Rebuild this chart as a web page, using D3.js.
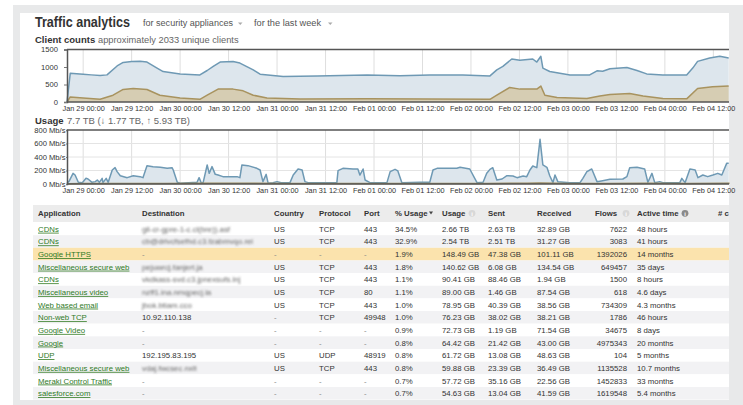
<!DOCTYPE html>
<html><head><meta charset="utf-8">
<script src="https://cdn.jsdelivr.net/npm/d3@7"></script>
<style>
html,body{margin:0;padding:0;background:#fff;}
svg{display:block;font-family:"Liberation Sans",Arial,Helvetica,sans-serif;}
</style></head>
<body>
<svg id="c" width="743" height="405"></svg>
<script>
// ---------- DATA ----------
// hours relative to Jan 29 00:00
const totalHours  = [-4,-3.2,0,2,4.2,5.9,8.4,9.9,12,14.1,15.8,18.3,19.8,24,28.9,30.7,32.2,33.9,37.1,38.8,42.1,43.8,49.5,57.9,64,70.3,78.4,85.8,94,100.7,102.4,103.9,106.1,108.1,111.3,112.3,113.3,113.8,115.5,120.5,125.4,127.2,128.6,130.4,134.6,137.1,139.5,143.5,149.4,150.9,152.1,155.1,157.6,159.8];
const totalValues = [0,820,790,775,760,775,1030,1130,1160,1165,1140,970,870,803,774,900,1016,1142,1160,1113,919,794,726,745,760,774,750,774,774,745,919,1016,1229,1190,1229,1142,1306,968,871,774,774,890,880,948,987,900,803,774,774,968,1161,1258,1306,1258];
const otherHours  = [-4,-3.2,0,4.2,7.4,9.9,12.4,15.8,19,24,28.9,30.7,33.4,37.1,39.6,42.1,45.5,53.7,70.3,100.7,102.4,105.6,108.1,112.3,113.3,114.3,117.3,124.7,127.9,130.4,135.3,138.6,143.5,149.4,152.1,155.8,159.8];
const otherValues = [0,145,116,77,194,358,387,358,194,116,77,194,368,368,319,194,116,85,90,77,194,416,368,368,455,194,126,97,174,213,242,174,97,90,387,435,455];

const usageHours  = [-4,-3.5,-2.5,-2,-1.2,-0.2,0.7,1.2,2.2,3,3.5,4,4.7,4.9,5.7,6.2,7.2,7.9,8.4,9.2,10.9,12.4,14.1,14.8,15.8,17.3,19.1,20.8,22,22.3,23.3,24,28.2,28.7,29.2,29.7,30.7,31.2,31.9,32.7,33.4,34.6,36.4,38.1,38.8,39.3,40.8,43,43.8,44.5,45.3,45.8,47,48,49,51.2,52,53.2,54.2,54.9,55.7,62.8,63.1,64.3,66.8,68,68.5,69.3,69.8,71,75.2,76,77.2,77.9,78.9,83.4,85.8,86.6,87.6,90.1,92.5,93.3,95.7,97.5,99,99.9,100.7,101.4,102.4,103.7,104.9,106.4,107.4,108.9,109.8,110.6,111.3,112.3,113.1,113.8,114.8,115.5,116.3,116.8,117.5,120.5,123,123.7,124.7,125.9,127.2,128.6,130.4,133.6,134.6,135.3,137.1,139,139.8,140.8,141.5,142.7,143.5,147.7,148.2,149,150.2,151.5,152.2,153.4,154.6,155.9,157.1,158.1,159.3,159.8];
const usageValues = [10,40,158,133,25,20,84,74,25,35,59,25,84,20,84,25,207,242,183,123,94,123,109,94,272,257,247,232,242,207,25,10,25,94,20,20,282,158,257,143,133,109,109,109,94,282,272,232,207,35,143,10,20,35,20,20,133,222,207,35,20,20,198,232,222,222,133,222,59,20,20,183,217,193,20,25,25,207,232,232,232,247,222,20,25,158,217,242,59,74,123,118,94,118,109,207,267,242,662,282,247,123,20,133,35,20,20,84,183,222,35,49,69,74,109,242,247,222,25,158,20,35,20,20,84,20,222,207,94,133,109,133,158,133,306,306];
const usageLowHours  = [-4,0,10,20,30,40,50,60,70,80,90,100,110,113,120,130,140,150,160];
const usageLowValues = [4,6,8,9,10,12,7,6,6,7,8,7,12,14,8,9,10,7,12];

const clientTicks = [0,500,1000,1500];
const usageTicks  = [0,200,400,600,800];

const apps = ["CDNs","CDNs","Google HTTPS","Miscellaneous secure web","CDNs","Miscellaneous video","Web based email","Non-web TCP","Google Video","Google","UDP","Miscellaneous secure web","Meraki Control Traffic","salesforce.com"];
const destinations = ["gll-cr-gpre-1-c.cl(bre)).asf","cb@drlvcfsefhd.c3.fzabmvqo.rei","-","pejuwrcj.fanjert.ja","vkdkass-svd.c3.jpnexsufs.lnj","nzff1.ina.nmqpecj.la","jbok.btiam.cco","10.92.110.138","-","-","192.195.83.195","vdaj.fwcsec.nxlt","-","-"];
const countries = ["US","US","-","US","US","US","US","-","-","-","US","US","-","-"];
const protocols = ["TCP","TCP","-","TCP","TCP","TCP","TCP","TCP","-","-","UDP","TCP","-","-"];
const ports = ["443","443","-","443","443","80","443","49948","-","-","48919","443","-","-"];
const pctUsage = ["34.5%","32.9%","1.9%","1.8%","1.1%","1.1%","1.0%","1.0%","0.9%","0.8%","0.8%","0.8%","0.7%","0.7%"];
const usageCol = ["2.66 TB","2.54 TB","148.49 GB","140.62 GB","90.41 GB","89.00 GB","78.95 GB","76.23 GB","72.73 GB","64.42 GB","61.72 GB","59.88 GB","57.72 GB","54.63 GB"];
const sentCol = ["2.63 TB","2.51 TB","47.38 GB","6.08 GB","88.46 GB","1.46 GB","40.39 GB","38.02 GB","1.19 GB","21.42 GB","13.08 GB","23.39 GB","35.16 GB","13.04 GB"];
const receivedCol = ["32.89 GB","31.27 GB","101.11 GB","134.54 GB","1.94 GB","87.54 GB","38.56 GB","38.21 GB","71.54 GB","43.00 GB","48.63 GB","36.49 GB","22.56 GB","41.59 GB"];
const flowsCol = ["7622","3083","1392026","649457","1500","618","734309","1786","34675","4975343","104","1135528","1452833","1619548"];
const activeCol = ["48 hours","41 hours","14 months","35 days","8 hours","4.6 days","4.3 months","46 hours","8 days","20 months","5 months","10.7 months","33 months","5.4 months"];
const highlightRow = 2;

// ---------- DRAW ----------
const svg = d3.select("#c");
const t0 = new Date(2015,0,29,0,0,0);
const toDate = h => new Date(t0.getTime() + h*3600e3);

// frame
svg.append("rect").attr("x",13).attr("y",5).attr("width",730).attr("height",400).attr("fill","#e8e9ea");
svg.append("rect").attr("x",20).attr("y",13).attr("width",709).attr("height",387).attr("fill","#fff");

// headings
svg.append("text").attr("x",35).attr("y",27).attr("font-size",14.5).attr("font-weight","bold").attr("fill","#333")
  .attr("textLength",95).attr("lengthAdjust","spacingAndGlyphs").text("Traffic analytics");
const sub = [["for security appliances",143,90,238],["for the last week",254,67,328]];
sub.forEach(s=>{
  svg.append("text").attr("x",s[1]).attr("y",26).attr("font-size",9.6).attr("fill","#555")
    .attr("textLength",s[2]).attr("lengthAdjust","spacingAndGlyphs").text(s[0]);
  svg.append("path").attr("d",`M${s[3]},22.5 l4.5,0 l-2.25,2.5 z`).attr("fill","#aaa");
});
svg.append("text").attr("x",35).attr("y",43).attr("font-size",9.5).attr("font-weight","bold").attr("fill","#333").text("Client counts");
svg.append("text").attr("x",98).attr("y",43).attr("font-size",9.3).attr("fill","#666").text("approximately 2033 unique clients");
svg.append("text").attr("x",35).attr("y",124).attr("font-size",9.5).attr("font-weight","bold").attr("fill","#333").text("Usage");
svg.append("text").attr("x",67).attr("y",124).attr("font-size",9.5).attr("fill","#666").text("7.7 TB (\u2193 1.77 TB, \u2191 5.93 TB)");

const x = d3.scaleTime().domain([toDate(-4), toDate(160)]).range([67, 729.5]);
const fmt = d3.timeFormat("%b %d %H:%M");
const tickVals = d3.range(0, 157, 12).map(toDate);

function chart(top, bottom, maxV, yTicks, yFmt, series, hGrid, labelPad){
  const y = d3.scaleLinear().domain([0,maxV]).range([bottom, top]);
  const g = svg.append("g");
  g.selectAll(".vg").data(tickVals).join("line")
    .attr("x1",d=>x(d)).attr("x2",d=>x(d)).attr("y1",top).attr("y2",bottom)
    .attr("stroke","#dedede").attr("stroke-width",1);
  if(hGrid){
    g.selectAll(".hg").data(yTicks.slice(1,-1)).join("line")
      .attr("x1",67).attr("x2",729).attr("y1",d=>y(d)).attr("y2",d=>y(d))
      .attr("stroke","#e4e4e4").attr("stroke-width",1);
  }
  series.forEach(s=>{
    const pts = s.hours.map((h,i)=>[toDate(h), s.values[i]]);
    g.append("path").datum(pts)
      .attr("d", d3.area().x(d=>x(d[0])).y0(y(0)).y1(d=>y(d[1])))
      .attr("fill", s.fill);
    g.append("path").datum(pts)
      .attr("d", d3.line().x(d=>x(d[0])).y(d=>y(d[1])))
      .attr("fill","none").attr("stroke", s.stroke).attr("stroke-width",1.5).attr("stroke-linejoin","round");
  });
  g.append("line").attr("x1",67).attr("x2",729).attr("y1",top).attr("y2",top).attr("stroke","#555").attr("stroke-width",1.5);
  g.append("line").attr("x1",67).attr("x2",729).attr("y1",bottom).attr("y2",bottom).attr("stroke","#555").attr("stroke-width",1.5);
  const ya = g.append("g").attr("transform","translate(67,0)")
    .call(d3.axisLeft(y).tickValues(yTicks).tickFormat(yFmt).tickSize(labelPad>3?3:1).tickPadding(labelPad));
  ya.select(".domain").attr("stroke","#555").attr("stroke-width",1.5);
  ya.selectAll(".tick line").attr("stroke","#777");
  ya.selectAll("text").attr("font-size",7.6).attr("fill","#333").attr("font-family","Liberation Sans, Arial, sans-serif");
  const xa = g.append("g").attr("transform",`translate(0,${bottom})`)
    .call(d3.axisBottom(x).tickValues(tickVals).tickFormat(fmt).tickSize(0).tickPadding(3.5));
  xa.select(".domain").remove();
  xa.selectAll("text").attr("font-size",7.3).attr("fill","#333").attr("font-family","Liberation Sans, Arial, sans-serif");
}

chart(49.5, 102, 1500, clientTicks, d=>d, [
  {hours: totalHours, values: totalValues, fill:"#dde6ed", stroke:"#6e99b4"},
  {hours: otherHours, values: otherValues, fill:"#d6cdb3", stroke:"#a8935f"}
], false, 6);

chart(130, 184, 800, usageTicks, d=>d+" Mb/s", [
  {hours: usageHours, values: usageValues, fill:"#dde6ed", stroke:"#6e99b4"},
  {hours: usageLowHours, values: usageLowValues, fill:"#cfc4a6", stroke:"#9c8a5c"}
], true, 0.5);

// ---------- TABLE ----------
const defs = svg.append("defs");
defs.append("filter").attr("id","blur").attr("x","-5%").attr("y","-50%").attr("width","110%").attr("height","200%")
  .append("feGaussianBlur").attr("stdDeviation",1.3);

const tblX = 33, tblR = 729, headTop = 205, headH = 17, rowTop = 222.5, rowH = 12.65;
svg.append("rect").attr("x",tblX).attr("y",headTop).attr("width",tblR-tblX).attr("height",headH).attr("fill","#ececec");
const rows = d3.range(apps.length);
svg.selectAll(".rowbg").data(rows).join("rect")
  .attr("x",tblX).attr("y",i=>rowTop+i*rowH).attr("width",tblR-tblX).attr("height",rowH)
  .attr("fill",i=> i===highlightRow ? "#fbe3ad" : (i%2===1 ? "#f2f2f4" : "#fff"));

const cols = [
  {h:"Application", x:38, data:apps, link:true},
  {h:"Destination", x:142, data:destinations, blur:true},
  {h:"Country", x:274, data:countries},
  {h:"Protocol", x:319, data:protocols},
  {h:"Port", x:364, data:ports},
  {h:"% Usage", x:395, data:pctUsage, sort:true},
  {h:"Usage", x:442, data:usageCol, info:472},
  {h:"Sent", x:488, data:sentCol},
  {h:"Received", x:537, data:receivedCol},
  {h:"Flows", x:595, data:flowsCol, right:627, info:626},
  {h:"Active time", x:637, data:activeCol, info:685, infoDark:true},
  {h:"# c", x:718, data:null}
];
const clip = defs.append("clipPath").attr("id","tclip");
clip.append("rect").attr("x",tblX).attr("y",headTop).attr("width",tblR-tblX).attr("height",200);
const tg = svg.append("g").attr("clip-path","url(#tclip)").attr("font-size",7.8);
cols.forEach(c=>{
  tg.append("text").attr("x",c.x).attr("y",headTop+11.3).attr("font-weight","bold").attr("fill","#333").text(c.h);
  if(c.sort) tg.append("path").attr("d",`M${c.x+34},${headTop+6.5} l4,0 l-2,3 z`).attr("fill","#444");
  if(c.info){
    tg.append("circle").attr("cx",c.info).attr("cy",headTop+8.3).attr("r",3.4).attr("fill",c.infoDark?"#8a8a8a":"#d8d8d8");
    tg.append("text").attr("x",c.info).attr("y",headTop+10.6).attr("text-anchor","middle").attr("font-size",5.8).attr("font-weight","bold").attr("fill","#fff").text("i");
  }
  if(!c.data) return;
  c.data.forEach((v,i)=>{
    const yb = rowTop + i*rowH + 9.2;
    const t = tg.append("text").attr("y",yb).attr("fill", c.link ? "#2f7a1f" : "#333").text(v);
    if(c.right!==undefined) t.attr("x",c.right).attr("text-anchor","end"); else t.attr("x",c.x);
    if(c.link) t.attr("text-decoration","underline");
    if(c.blur && v!=="-" && !/^\d/.test(v)) t.attr("filter","url(#blur)").attr("fill","#666");
    if(v==="-") t.attr("fill","#888");
  });
});
</script>
</body></html>
